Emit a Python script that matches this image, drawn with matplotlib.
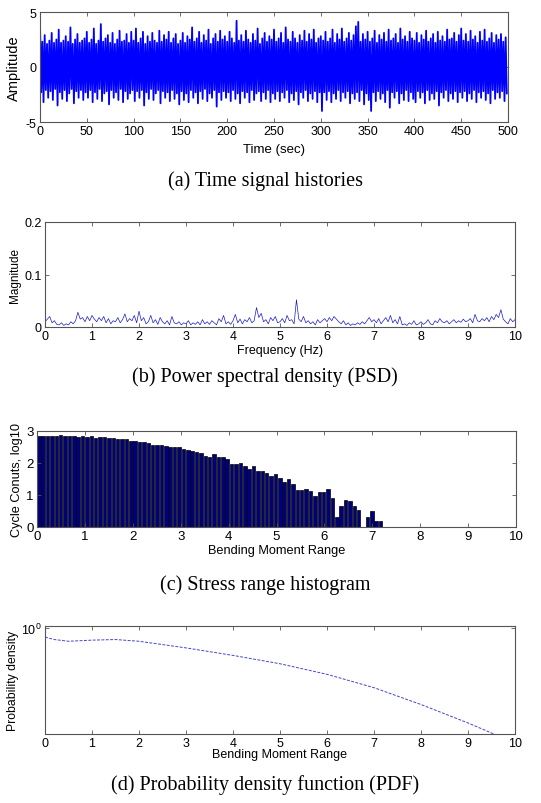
import numpy as np
import matplotlib
matplotlib.use("Agg")
import matplotlib.pyplot as plt
from matplotlib.ticker import NullFormatter, NullLocator, FixedLocator

plt.rcParams['font.family'] = ['Liberation Sans', 'DejaVu Sans']
plt.rcParams['axes.unicode_minus'] = False
plt.rcParams['xtick.direction'] = 'in'
plt.rcParams['ytick.direction'] = 'in'
plt.rcParams['xtick.top'] = True
plt.rcParams['ytick.right'] = True

# ---- (a) time signal: alternating peak / trough samples ----
sample_dt = 1.25
sig_peaks = [
    4.0, 2.3, 2.9, 2.1, 2.4, 3.1, 2.2, 2.5, 3.4, 2.2, 2.4, 2.8, 2.3, 3.6, 2.1, 2.5, 3.0, 2.2, 2.4, 2.6,
    3.2, 2.2, 2.5, 3.5, 2.1, 2.4, 3.9, 2.3, 2.6, 2.9, 2.2, 3.1, 2.1, 2.5, 3.3, 2.3, 2.4, 3.0, 2.2, 3.2,
    2.4, 3.5, 2.2, 2.6, 3.2, 2.1, 2.8, 2.3, 3.1, 2.4, 2.2, 3.3, 2.3, 2.9, 2.5, 3.2, 2.2, 2.6, 3.0, 2.1,
    2.4, 3.1, 2.2, 2.8, 2.5, 3.6, 2.3, 2.6, 3.2, 2.2, 2.9, 2.4, 3.4, 2.1, 2.6, 3.0, 2.3, 3.3, 2.5, 2.8,
    2.3, 3.2, 2.6, 2.2, 4.2, 2.4, 2.9, 2.3, 3.3, 2.5, 2.2, 3.0, 2.4, 3.5, 2.1, 2.6, 3.1, 2.3, 2.8, 2.5,
    3.4, 2.3, 2.6, 3.1, 2.2, 3.6, 2.5, 2.3, 3.2, 2.6, 2.2, 2.9, 2.4, 3.3, 2.3, 3.0, 2.5, 3.4, 2.2, 2.6,
    2.8, 2.4, 3.2, 2.3, 2.6, 3.4, 2.2, 3.0, 2.5, 3.5, 2.3, 2.6, 3.1, 2.4, 2.9, 3.7, 4.1, 2.3, 3.0, 2.5,
    3.2, 2.3, 2.6, 3.3, 2.2, 2.9, 2.5, 3.1, 2.3, 3.4, 2.4, 2.6, 3.0, 2.2, 3.5, 2.5, 2.8, 2.3, 3.2, 2.6,
    2.4, 3.1, 2.2, 2.9, 2.5, 3.3, 2.3, 2.6, 3.0, 2.2, 3.2, 2.4, 2.8, 2.3, 3.4, 2.5, 2.6, 3.1, 2.3, 2.9,
    3.5, 2.4, 3.0, 2.3, 3.3, 2.5, 2.8, 2.2, 3.2, 2.4, 3.4, 2.3, 2.6, 3.1, 2.2, 2.9, 2.5, 3.0, 2.3, 2.7,
]
sig_troughs = [
    -2.3, -3.2, -2.1, -2.8, -2.2, -3.0, -2.0, -3.5, -2.3, -2.9, -2.1, -3.1, -2.4, -2.0, -3.3, -2.2, -2.8, -2.1, -3.0, -2.3,
    -2.8, -2.1, -3.2, -2.3, -2.9, -2.0, -3.1, -2.4, -2.2, -3.4, -2.1, -2.8, -2.3, -3.0, -2.0, -3.2, -2.2, -2.9, -2.4, -2.1,
    -3.1, -2.2, -2.8, -2.1, -3.5, -2.3, -2.9, -2.0, -3.0, -2.4, -2.1, -3.3, -2.2, -2.8, -2.3, -3.1, -2.1, -2.9, -2.4, -3.4,
    -2.2, -3.0, -2.4, -3.2, -2.1, -2.8, -2.3, -3.3, -2.2, -2.9, -2.0, -3.1, -2.4, -2.8, -2.1, -3.6, -2.3, -3.0, -2.2, -2.8,
    -2.3, -3.1, -2.1, -2.9, -2.4, -3.3, -2.2, -2.8, -2.3, -3.2, -2.1, -3.0, -2.4, -2.2, -3.1, -2.3, -2.9, -2.1, -3.2, -2.4,
    -2.9, -2.2, -3.1, -2.3, -2.8, -2.1, -3.2, -2.4, -3.0, -2.2, -3.4, -2.3, -2.8, -2.1, -3.1, -2.4, -2.9, -2.2, -3.2, -2.3,
    -4.0, -2.3, -3.0, -2.2, -3.2, -2.4, -2.9, -2.1, -3.1, -2.3, -2.8, -2.2, -3.3, -2.4, -2.9, -2.3, -3.1, -2.1, -3.4, -2.4,
    -3.0, -4.0, -2.3, -3.1, -2.2, -2.9, -2.4, -3.2, -2.1, -3.7, -2.3, -2.8, -2.2, -3.3, -2.4, -3.0, -2.1, -3.1, -2.3, -2.9,
    -3.2, -2.2, -2.8, -2.3, -3.3, -2.1, -3.0, -2.4, -2.9, -2.2, -3.5, -2.3, -2.8, -2.1, -3.1, -2.4, -2.9, -2.2, -3.2, -2.3,
    -2.8, -2.2, -3.1, -2.4, -2.9, -2.1, -3.2, -2.3, -2.8, -2.2, -3.0, -2.4, -3.3, -2.1, -2.9, -2.3, -2.8, -2.2, -3.1, -2.4,
]

# ---- (b) PSD magnitude, 0.05 Hz spacing ----
psd_df = 0.05
psd_mag = [
    0.010, 0.015, 0.020, 0.008, 0.012, 0.005, 0.004, 0.008, 0.003, 0.006,
    0.004, 0.010, 0.006, 0.012, 0.028, 0.015, 0.018, 0.010, 0.020, 0.012,
    0.022, 0.015, 0.010, 0.018, 0.012, 0.020, 0.008, 0.016, 0.006, 0.012,
    0.010, 0.018, 0.008, 0.014, 0.025, 0.010, 0.016, 0.012, 0.022, 0.008,
    0.030, 0.012, 0.018, 0.006, 0.010, 0.022, 0.008, 0.014, 0.005, 0.018,
    0.010, 0.006, 0.012, 0.004, 0.020, 0.008, 0.006, 0.010, 0.004, 0.008,
    0.006, 0.012, 0.004, 0.008, 0.005, 0.010, 0.004, 0.014, 0.006, 0.010,
    0.005, 0.012, 0.008, 0.004, 0.016, 0.010, 0.022, 0.006, 0.010, 0.005,
    0.012, 0.024, 0.008, 0.015, 0.006, 0.014, 0.010, 0.018, 0.008, 0.012,
    0.037, 0.018, 0.026, 0.010, 0.014, 0.006, 0.018, 0.012, 0.020, 0.008,
    0.010, 0.016, 0.008, 0.022, 0.012, 0.014, 0.006, 0.052, 0.015, 0.010,
    0.020, 0.008, 0.012, 0.006, 0.010, 0.004, 0.014, 0.008, 0.012, 0.016,
    0.010, 0.018, 0.012, 0.020, 0.015, 0.010, 0.006, 0.012, 0.004, 0.008,
    0.003, 0.006, 0.004, 0.008, 0.005, 0.010, 0.006, 0.012, 0.018, 0.010,
    0.014, 0.008, 0.016, 0.006, 0.012, 0.018, 0.010, 0.022, 0.008, 0.014,
    0.006, 0.020, 0.004, 0.006, 0.003, 0.008, 0.005, 0.012, 0.004, 0.006,
    0.010, 0.005, 0.008, 0.014, 0.006, 0.004, 0.012, 0.008, 0.016, 0.010,
    0.008, 0.012, 0.006, 0.010, 0.014, 0.008, 0.012, 0.009, 0.015, 0.010,
    0.012, 0.016, 0.008, 0.024, 0.012, 0.010, 0.016, 0.012, 0.018, 0.010,
    0.020, 0.014, 0.024, 0.018, 0.033, 0.015, 0.010, 0.006, 0.016, 0.010, 0.014,
]

# ---- (c) rainflow histogram, log10 of cycle counts ----
bin_width = 0.0915
cycle_log = [
    2.83, 2.83, 2.85, 2.85, 2.85, 2.87, 2.85, 2.85, 2.85, 2.80,
    2.83, 2.80, 2.83, 2.77, 2.80, 2.81, 2.78, 2.79, 2.76, 2.76,
    2.76, 2.70, 2.68, 2.66, 2.66, 2.64, 2.57, 2.57, 2.55, 2.53,
    2.50, 2.50, 2.50, 2.44, 2.40, 2.38, 2.34, 2.30, 2.22, 2.20,
    2.27, 2.20, 2.20, 2.11, 1.96, 1.96, 2.00, 1.92, 1.81, 1.92,
    1.74, 1.74, 1.68, 1.59, 1.67, 1.53, 1.40, 1.51, 1.35, 1.16,
    1.16, 1.18, 1.11, 0.98, 1.08, 1.08, 1.20, 0.92, 0.30, 0.65,
    0.84, 0.80, 0.65, 0.54, 0.00, 0.32, 0.50, 0.18, 0.18,
]

# ---- (d) PDF ----
pdf_x = [0.0, 0.2, 0.5, 1.0, 1.5, 2.0, 3.0, 4.0, 5.0, 6.0, 7.0, 8.0, 9.0, 9.55]
pdf_y = [0.90, 0.875, 0.858, 0.869, 0.875, 0.858, 0.796, 0.731, 0.665, 0.590, 0.507, 0.419, 0.340, 0.30]

captions = ['(a) Time signal histories', '(b) Power spectral density (PSD)',
            '(c) Stress range histogram', '(d) Probability density function (PDF)']

W, H = 541, 804
fig = plt.figure(figsize=(W / 100, H / 100), dpi=100)


def box(l, t, r, b):
    return [l / W, 1 - b / H, (r - l) / W, (b - t) / H]


def style(ax, fs, xlab_y, ylab_x):
    for s in ax.spines.values():
        s.set_color('#555555')
        s.set_linewidth(0.8)
    ax.tick_params(length=3, width=0.6, color='#555555', labelsize=fs, pad=2.5)
    ax.xaxis.set_label_coords(0.5, xlab_y)
    ax.yaxis.set_label_coords(ylab_x, 0.5)


serif = ['Liberation Serif', 'DejaVu Serif']

# (a)
ax1 = fig.add_axes(box(40, 13, 508, 123))
sig = np.column_stack([sig_peaks, sig_troughs]).ravel()
t = np.arange(len(sig)) * sample_dt
ax1.plot(t, sig, color='#0000ff', linewidth=1.3)
ax1.set_xlim(0, 500)
ax1.set_ylim(-5, 5)
ax1.set_xticks(np.arange(0, 501, 50))
ax1.set_yticks([-5, 0, 5])
ax1.set_xlabel('Time (sec)', fontsize=9.5)
ax1.set_ylabel('Amplitude', fontsize=10.5)
style(ax1, 9, -0.19, -0.04)

# (b)
ax2 = fig.add_axes(box(45, 223, 515, 328))
f = np.arange(len(psd_mag)) * psd_df
ax2.plot(f, psd_mag, color='#1a1acc', linewidth=0.5)
ax2.set_xlim(0, 10)
ax2.set_ylim(0, 0.2)
ax2.set_xticks(range(0, 11))
ax2.set_yticks([0, 0.1, 0.2])
ax2.set_yticklabels(['0', '0.1', '0.2'])
ax2.set_xlabel('Frequency (Hz)', fontsize=9)
ax2.set_ylabel('Magnitude', fontsize=8.5)
style(ax2, 9, -0.16, -0.05)

# (c)
ax3 = fig.add_axes(box(37, 432, 516, 528))
xb = np.arange(len(cycle_log)) * bin_width
ax3.bar(xb, cycle_log, width=bin_width * 0.8, align='edge', color='#00007a',
        edgecolor='#000000', linewidth=0.5)
ax3.set_xlim(0, 10)
ax3.set_ylim(0, 3)
ax3.set_xticks(range(0, 11))
ax3.set_yticks([0, 1, 2, 3])
ax3.set_xlabel('Bending Moment Range', fontsize=9.2)
ax3.set_ylabel('Cycle Conuts, log10', fontsize=9.2)
style(ax3, 9.5, -0.18, -0.03)

# (d)
ax4 = fig.add_axes(box(45, 627, 515, 735))
ax4.plot(pdf_x, pdf_y, color='#4444cc', linewidth=0.7, dashes=(3, 1.5))
ax4.set_yscale('log')
ax4.set_xlim(0, 10)
ax4.set_ylim(0.30, 1.02)
ax4.set_xticks(range(0, 11))
ax4.yaxis.set_major_locator(FixedLocator([1.0]))
ax4.yaxis.set_minor_locator(NullLocator())
ax4.yaxis.set_minor_formatter(NullFormatter())
ax4.set_xlabel('Bending Moment Range', fontsize=9)
ax4.set_ylabel('Probability density', fontsize=8.8)
style(ax4, 9, -0.13, -0.055)

for cap, y in zip(captions, [181, 377, 585, 785]):
    fig.text(0.49, 1 - y / H, cap, ha='center', va='center', fontsize=14.5, family=serif)

fig.savefig('out.png', dpi=100)
